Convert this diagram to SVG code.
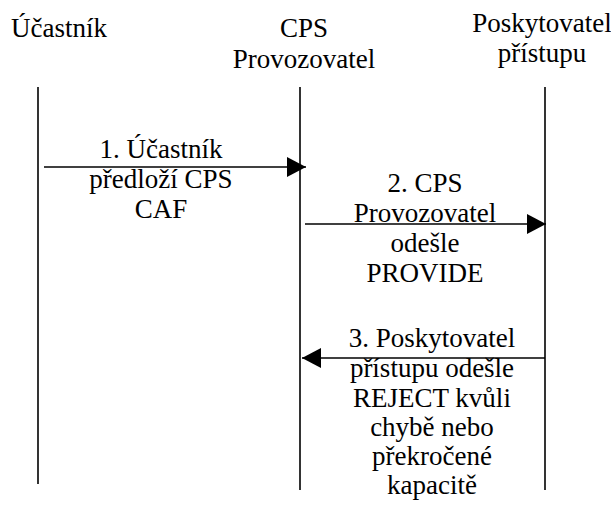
<svg xmlns="http://www.w3.org/2000/svg" width="611" height="506" viewBox="0 0 611 506">
<defs>
<marker id="ah" viewBox="0 0 19 20" refX="19" refY="10" markerWidth="19" markerHeight="20" markerUnits="userSpaceOnUse" orient="auto">
<path d="M0,0 L19,10 L0,20 Z" fill="#000"/>
</marker>
</defs>
<g id="participant-ucastnik" font-family="Liberation Serif" font-size="27" text-anchor="middle" fill="#000">
<text x="59" y="37">Účastník</text>
<line x1="38" y1="87" x2="38" y2="484" stroke="#000" stroke-width="1.6"/>
</g>
<g id="participant-cps" font-family="Liberation Serif" font-size="27" text-anchor="middle" fill="#000">
<text x="304" y="37">CPS</text>
<text x="304" y="68">Provozovatel</text>
<line x1="300" y1="87" x2="300" y2="490" stroke="#000" stroke-width="1.6"/>
</g>
<g id="participant-poskytovatel" font-family="Liberation Serif" font-size="27" text-anchor="middle" fill="#000">
<text x="542" y="32">Poskytovatel</text>
<text x="542" y="62">přístupu</text>
<line x1="545" y1="87" x2="545" y2="490" stroke="#000" stroke-width="1.6"/>
</g>
<g id="connectors" stroke="#000" stroke-width="1.6" fill="none" marker-end="url(#ah)">
<line x1="44" y1="167" x2="306" y2="167"/>
<line x1="305" y1="224" x2="546" y2="224"/>
<line x1="545" y1="358" x2="302" y2="358"/>
</g>
<g id="label-1" font-family="Liberation Serif" font-size="27" text-anchor="middle" fill="#000">
<text x="161" y="158">1. Účastník</text>
<text x="161" y="188">předloží CPS</text>
<text x="161" y="218">CAF</text>
</g>
<g id="label-2" font-family="Liberation Serif" font-size="27" text-anchor="middle" fill="#000">
<text x="425" y="192">2. CPS</text>
<text x="425" y="222">Provozovatel</text>
<text x="425" y="252">odešle</text>
<text x="425" y="282">PROVIDE</text>
</g>
<g id="label-3" font-family="Liberation Serif" font-size="27" text-anchor="middle" fill="#000">
<text x="432" y="347">3. Poskytovatel</text>
<text x="432" y="377">přístupu odešle</text>
<text x="432" y="407">REJECT kvůli</text>
<text x="432" y="436">chybě nebo</text>
<text x="432" y="465">překročené</text>
<text x="432" y="494">kapacitě</text>
</g>
</svg>
